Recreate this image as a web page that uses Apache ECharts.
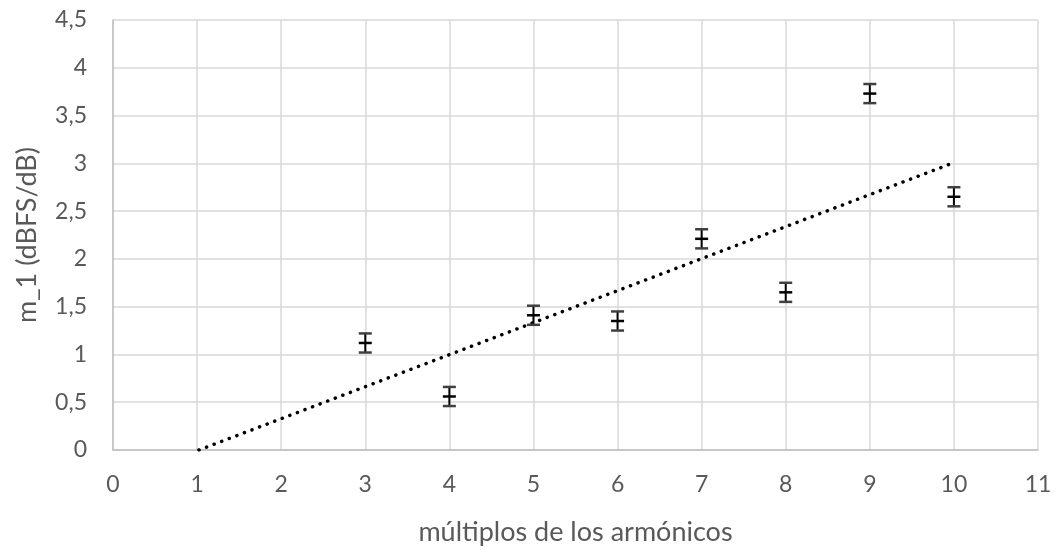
<!DOCTYPE html>
<html><head><meta charset="utf-8">
<script src="https://cdn.jsdelivr.net/npm/echarts@6/dist/echarts.min.js"></script>
<style>html,body{margin:0;padding:0;background:#fff}#c{width:1061px;height:552px}</style>
</head><body><div id="c"></div>
<script>
const xValues = [3, 4, 5, 6, 7, 8, 9, 10];
const yValues = [1.12, 0.56, 1.41, 1.35, 2.21, 1.65, 3.73, 2.65];
const yErrors = [0.1, 0.1, 0.1, 0.1, 0.1, 0.1, 0.1, 0.1];
const xTitle = 'múltiplos de los armónicos';
const yTitle = 'm_1 (dBFS/dB)';

// linear least-squares trendline from the data (as in the spreadsheet trendline)
const n = xValues.length;
const mx = xValues.reduce((a,b)=>a+b,0)/n;
const my = yValues.reduce((a,b)=>a+b,0)/n;
let sxy=0, sxx=0;
for (let i=0;i<n;i++){ sxy+=(xValues[i]-mx)*(yValues[i]-my); sxx+=(xValues[i]-mx)**2; }
const slope = sxy/sxx, intercept = my - slope*mx;
const xStart = -intercept/slope; // where trendline meets y = 0
const trend = [[xStart, 0], [10, slope*10+intercept]];

const errData = xValues.map((x,i)=>[x, yValues[i], yValues[i]-yErrors[i], yValues[i]+yErrors[i]]);
const fmt = v => String(v).replace('.', ',');
const FONT = 'Lato, "Open Sans", sans-serif';

const chart = echarts.init(document.getElementById('c'), null, {renderer:'canvas'});
chart.setOption({
  animation:false,
  backgroundColor:'#fff',
  grid:{left:113, right:23, top:20, bottom:102},
  xAxis:{type:'value', min:0, max:11, interval:1,
    name:xTitle, nameLocation:'middle', nameGap:69,
    nameTextStyle:{color:'#595959', fontSize:27, fontFamily:FONT},
    axisLine:{show:true, lineStyle:{color:'#bfbfbf', width:1.5}},
    axisTick:{show:false},
    axisLabel:{color:'#595959', fontSize:23, fontFamily:FONT, margin:23, formatter:fmt},
    splitLine:{show:true, lineStyle:{color:'#d9d9d9', width:1.5}}},
  yAxis:{type:'value', min:0, max:4.5, interval:0.5,
    name:yTitle, nameLocation:'middle', nameGap:72,
    nameTextStyle:{color:'#595959', fontSize:27, fontFamily:FONT},
    axisLine:{show:true, lineStyle:{color:'#bfbfbf', width:1.5}},
    axisTick:{show:false},
    axisLabel:{color:'#595959', fontSize:23, fontFamily:FONT, margin:26, formatter:fmt},
    splitLine:{show:true, lineStyle:{color:'#d9d9d9', width:1.5}}},
  series:[
    {type:'line', data:trend, symbol:'none', silent:true, z:3,
     lineStyle:{color:'#000', width:3.5, type:[0.1, 8], cap:'round'}},
    {type:'custom', data:errData, z:4,
     renderItem:function(params, api){
       const x = api.value(0);
       const c = api.coord([x, api.value(1)]);
       const lo = api.coord([x, api.value(2)]);
       const hi = api.coord([x, api.value(3)]);
       const hw = 6.5;
       return {type:'group', children:[
         {type:'line', shape:{x1:c[0], y1:hi[1], x2:c[0], y2:lo[1]}, style:{stroke:'#000', lineWidth:2}},
         {type:'line', shape:{x1:c[0]-hw, y1:hi[1], x2:c[0]+hw, y2:hi[1]}, style:{stroke:'#404040', lineWidth:2.5}},
         {type:'line', shape:{x1:c[0]-hw, y1:lo[1], x2:c[0]+hw, y2:lo[1]}, style:{stroke:'#404040', lineWidth:2.5}},
         {type:'line', shape:{x1:c[0]-hw, y1:c[1], x2:c[0]+hw, y2:c[1]}, style:{stroke:'#000', lineWidth:2.5}}
       ]};
     }}
  ]
});
</script></body></html>
